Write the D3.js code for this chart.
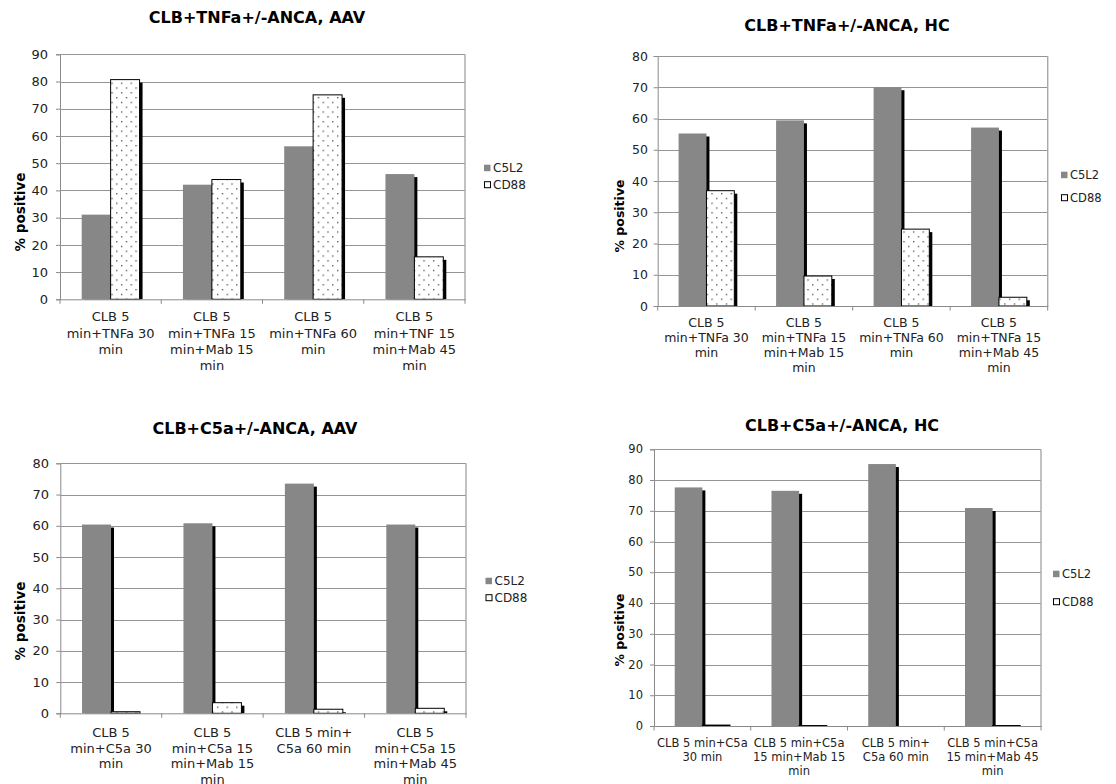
<!DOCTYPE html>
<html>
<head>
<meta charset="utf-8">
<script src="https://d3js.org/d3.v7.min.js"></script>
<style>
    body { margin: 0; background: #fff; }
    text { font-family: "DejaVu Sans", Verdana, sans-serif; }
</style>
</head>
<body>
<script>
//series names
var seriesNames = ["C5L2", "CD88"];

//category labels, one array of lines per category
var catsTnfAav = [["CLB 5", "min+TNFa 30", "min"], ["CLB 5", "min+TNFa 15", "min+Mab 15", "min"], ["CLB 5", "min+TNFa 60", "min"], ["CLB 5", "min+TNF 15", "min+Mab 45", "min"]];
var catsTnfHc = [["CLB 5", "min+TNFa 30", "min"], ["CLB 5", "min+TNFa 15", "min+Mab 15", "min"], ["CLB 5", "min+TNFa 60", "min"], ["CLB 5", "min+TNFa 15", "min+Mab 45", "min"]];
var catsC5aAav = [["CLB 5", "min+C5a 30", "min"], ["CLB 5", "min+C5a 15", "min+Mab 15", "min"], ["CLB 5 min+", "C5a 60 min"], ["CLB 5", "min+C5a 15", "min+Mab 45", "min"]];
var catsC5aHc = [["CLB 5 min+C5a", "30 min"], ["CLB 5 min+C5a", "15 min+Mab 15", "min"], ["CLB 5 min+", "C5a 60 min"], ["CLB 5 min+C5a", "15 min+Mab 45", "min"]];

//values (% positive)
var c5l2TnfAav = [31.1, 42.1, 56.2, 46.0];
var cd88TnfAav = [80.7, 44.0, 75.1, 15.6];
var c5l2TnfHc = [55.2, 59.4, 70.0, 57.1];
var cd88TnfHc = [36.9, 9.6, 24.6, 2.8];
var c5l2C5aAav = [60.4, 60.8, 73.5, 60.4];
var cd88C5aAav = [0.5, 3.4, 1.3, 1.6];
var c5l2C5aHc = [77.6, 76.5, 85.2, 70.9];
var cd88C5aHc = [0.3, 0.15, 0, 0.15];

//axis maxima and tick values
var yTicks90 = [0, 10, 20, 30, 40, 50, 60, 70, 80, 90];
var yTicks80 = [0, 10, 20, 30, 40, 50, 60, 70, 80];

(function(){
    var svg = d3.select("body").append("svg")
        .attr("width", 1116)
        .attr("height", 784);

    //dotted fill used by CD88
    var defs = svg.append("defs");
    var pat = defs.append("pattern")
        .attr("id", "dots")
        .attr("patternUnits", "userSpaceOnUse")
        .attr("width", 9.6)
        .attr("height", 9.6);
    pat.append("rect").attr("width", 9.6).attr("height", 9.6).attr("fill", "#fff");
    pat.append("rect").attr("x", 1).attr("y", 1).attr("width", 1.3).attr("height", 1.3).attr("fill", "#444");
    pat.append("rect").attr("x", 5.8).attr("y", 5.8).attr("width", 1.3).attr("height", 1.3).attr("fill", "#444");

    var panels = [
        {title: "CLB+TNFa+/-ANCA, AAV", cats: catsTnfAav, vals: [c5l2TnfAav, cd88TnfAav], ticks: yTicks90,
         x0: 60, x1: 465, y0: 54.3, y1: 299.3, tx: 257, ty: 17, fs: 13, lab: 16.3, labY: 17.5,
         ylx: 20, yly: 212, yfs: 13.5, lx: 484, ly: [168, 185], lfs: 12, tickR: 48},
        {title: "CLB+TNFa+/-ANCA, HC", cats: catsTnfHc, vals: [c5l2TnfHc, cd88TnfHc], ticks: yTicks80,
         x0: 657.7, x1: 1047.7, y0: 56, y1: 306, tx: 847, ty: 25, fs: 12.5, lab: 14.8, labY: 17,
         ylx: 620, yly: 216, yfs: 12.5, lx: 1061, ly: [175, 198], lfs: 11.5, tickR: 648},
        {title: "CLB+C5a+/-ANCA, AAV", cats: catsC5aAav, vals: [c5l2C5aAav, cd88C5aAav], ticks: yTicks80,
         x0: 60.3, x1: 466, y0: 463.3, y1: 713.3, tx: 255, ty: 428, fs: 13, lab: 15.7, labY: 19,
         ylx: 20, yly: 621, yfs: 13.5, lx: 485.5, ly: [581, 598], lfs: 12, tickR: 49},
        {title: "CLB+C5a+/-ANCA, HC", cats: catsC5aHc, vals: [c5l2C5aHc, cd88C5aHc], ticks: yTicks90,
         x0: 654, x1: 1041, y0: 449.3, y1: 726, tx: 842, ty: 425, fs: 11.5, lab: 14.2, labY: 17,
         ylx: 620, yly: 630, yfs: 12.5, lx: 1053, ly: [574, 602], lfs: 11.5, tickR: 643}
    ];

    panels.forEach(function(p, pi){
        drawPanel(p, pi);
    });

    function drawPanel(p, pi){
        var g = svg.append("g");
        var idx = d3.range(p.cats.length);

        //scales
        var x = d3.scaleBand().domain(idx).range([p.x0, p.x1]).padding(0);
        var xs = d3.scaleBand().domain(seriesNames).range([0, x.bandwidth()])
            .paddingInner(0).paddingOuter(0.75);
        var y = d3.scaleLinear().domain([0, d3.max(p.ticks)]).range([p.y1, p.y0]);

        //clip so shadows stop at the axis
        defs.append("clipPath").attr("id", "clip" + pi)
            .append("rect")
            .attr("x", p.x0).attr("y", p.y0 - 5)
            .attr("width", p.x1 - p.x0 + 6).attr("height", p.y1 - p.y0 + 5);

        //gridlines + y axis
        var yAxis = g.append("g")
            .attr("transform", "translate(" + p.x0 + ",0)")
            .call(d3.axisLeft(y).tickValues(p.ticks).tickSize(4).tickPadding(p.x0 - p.tickR - 4));
        yAxis.select(".domain").attr("stroke", "#8a8a8a");
        yAxis.selectAll(".tick line").attr("stroke", "#8a8a8a");
        yAxis.selectAll(".tick text")
            .attr("fill", "#222")
            .style("font-size", p.fs + "px")
            .style("font-family", "DejaVu Sans");

        g.append("g").selectAll("line")
            .data(p.ticks.filter(function(t){ return t > 0; }))
            .enter().append("line")
            .attr("x1", p.x0).attr("x2", p.x1)
            .attr("y1", function(d){ return Math.round(y(d)) + 0.5; })
            .attr("y2", function(d){ return Math.round(y(d)) + 0.5; })
            .attr("stroke", "#959595");

        //right border of plot area
        g.append("line")
            .attr("x1", p.x1).attr("x2", p.x1)
            .attr("y1", p.y0).attr("y2", p.y1)
            .attr("stroke", "#a8a8a8").attr("stroke-width", 1.4);

        //bars with drop shadow
        var bars = g.append("g");
        p.vals.forEach(function(vals, si){
            var sName = seriesNames[si];
            vals.forEach(function(v, ci){
                if (v <= 0) return;
                var bx = x(ci) + xs(sName),
                    by = y(v),
                    bw = xs.bandwidth(),
                    bh = y(0) - y(v);
                bars.append("rect")
                    .attr("clip-path", "url(#clip" + pi + ")")
                    .attr("x", bx + 3).attr("y", by + 3)
                    .attr("width", bw).attr("height", bh)
                    .attr("fill", "#000");
                bars.append("rect")
                    .attr("x", bx).attr("y", by)
                    .attr("width", bw).attr("height", bh)
                    .attr("fill", si === 0 ? "#878787" : "url(#dots)")
                    .attr("stroke", si === 0 ? "none" : "#000")
                    .attr("stroke-width", 1);
            });
        });

        //x axis line and boundary ticks
        g.append("line")
            .attr("x1", p.x0).attr("x2", p.x1 + 0.7)
            .attr("y1", p.y1 + 0.5).attr("y2", p.y1 + 0.5)
            .attr("stroke", "#8a8a8a");
        var edges = idx.map(function(i){ return x(i); }).concat([x(idx.length - 1) + x.bandwidth()]);
        g.append("g").selectAll("line")
            .data(edges).enter().append("line")
            .attr("x1", function(d){ return d; }).attr("x2", function(d){ return d; })
            .attr("y1", p.y1).attr("y2", p.y1 + 4.5)
            .attr("stroke", "#8a8a8a");

        //category labels
        var labels = g.append("g").selectAll("text")
            .data(p.cats).enter().append("text")
            .attr("text-anchor", "middle")
            .attr("fill", "#222")
            .style("font-size", p.fs + "px")
            .attr("transform", function(d, i){
                return "translate(" + (x(i) + x.bandwidth() / 2) + "," + (p.y1 + p.labY) + ")";
            });
        labels.selectAll("tspan")
            .data(function(d){ return d; })
            .enter().append("tspan")
            .attr("x", 0)
            .attr("y", function(d, i){ return i * p.lab; })
            .attr("dy", "0.35em")
            .text(function(d){ return d; });

        //title
        g.append("text")
            .attr("x", p.tx).attr("y", p.ty)
            .attr("dy", "0.35em")
            .attr("text-anchor", "middle")
            .style("font-size", "16px")
            .style("font-weight", "bold")
            .text(p.title);

        //y axis title
        g.append("text")
            .attr("transform", "translate(" + p.ylx + "," + p.yly + ") rotate(-90)")
            .attr("dy", "0.35em")
            .attr("text-anchor", "middle")
            .style("font-size", p.yfs + "px")
            .style("font-weight", "bold")
            .text("% positive");

        //legend
        seriesNames.forEach(function(name, si){
            var ly = p.ly[si];
            g.append("rect")
                .attr("x", si === 0 ? p.lx : p.lx + 0.5)
                .attr("y", ly - 3.3)
                .attr("width", si === 0 ? 6.5 : 6)
                .attr("height", si === 0 ? 6.5 : 6)
                .attr("fill", si === 0 ? "#878787" : "#fff")
                .attr("stroke", si === 0 ? "none" : "#000");
            g.append("text")
                .attr("x", p.lx + 9).attr("y", ly)
                .attr("dy", "0.35em")
                .attr("fill", "#222")
                .style("font-size", p.lfs + "px")
                .text(name);
        });
    }
})();
</script>
</body>
</html>
